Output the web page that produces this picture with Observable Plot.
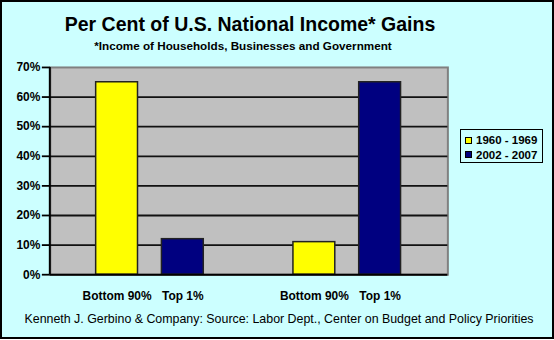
<!DOCTYPE html>
<html>
<head>
<meta charset="utf-8">
<script src="https://cdn.jsdelivr.net/npm/d3@7"></script>
<script src="https://cdn.jsdelivr.net/npm/@observablehq/plot@0.6"></script>
<style>
  html, body { margin: 0; padding: 0; background: #fff; }
  #wrap {
    position: relative; width: 554px; height: 339px; box-sizing: border-box;
    border: 2px solid #000; background: #CCFFFF; overflow: hidden;
    font-family: "Liberation Sans", Arial, sans-serif;
  }
  #title { position: absolute; left: 0; width: 496px; top: 11px; text-align: center;
    font-size: 19.5px; font-weight: bold; color: #000; }
  #subtitle { position: absolute; left: 0; width: 482px; top: 37px; text-align: center;
    font-size: 11.7px; font-weight: bold; color: #000; }
  #chart { position: absolute; left: -2px; top: 53px; }
  #caption { position: absolute; left: 0; width: 554px; top: 310px; text-align: center;
    font-size: 12.4px; color: #000; }
  #legend { position: absolute; left: 458px; top: 127px; width: 83px; height: 34px;
    box-sizing: border-box; border: 1px solid #000; padding: 3px 0 0 4px; }
  .item { display: flex; align-items: center; height: 14.5px; font-size: 11.5px; font-weight: bold; white-space: nowrap; }
  .sw { width: 5px; height: 5px; border: 1px solid #000; margin-right: 4px; }
</style>
</head>
<body>
<div id="wrap">
  <div id="title"></div>
  <div id="subtitle"></div>
  <div id="chart"></div>
  <div id="legend"></div>
  <div id="caption"></div>
</div>
<script>
const titleText = "Per Cent of U.S. National Income* Gains";
const subtitleText = "*Income of Households, Businesses and Government";
const captionText = "Kenneth J. Gerbino & Company: Source: Labor Dept., Center on Budget and Policy Priorities";

// bar slots (a blank slot separates the two periods)
const slots = ["b1", "t1", "gap", "b2", "t2"];
const slotLabels = ["Bottom 90%", "Top 1%", "", "Bottom 90%", "Top 1%"];
const barSlots = ["b1", "t1", "b2", "t2"];
const barValues = [65, 12, 11, 65];
const barColors = ["#FFFF00", "#000080", "#FFFF00", "#000080"];

const legendLabels = ["1960 - 1969", "2002 - 2007"];
const legendColors = ["#FFFF00", "#000080"];

const yTicks = [0, 10, 20, 30, 40, 50, 60, 70];
const gridVals = [10, 20, 30, 40, 50, 60];

document.getElementById("title").textContent = titleText;
document.getElementById("subtitle").textContent = subtitleText;
document.getElementById("caption").textContent = captionText;

const lg = document.getElementById("legend");
legendLabels.forEach((l, i) => {
  const d = document.createElement("div");
  d.className = "item";
  const s = document.createElement("span");
  s.className = "sw";
  s.style.background = legendColors[i];
  d.appendChild(s);
  d.appendChild(document.createTextNode(l));
  lg.appendChild(d);
});

const bars = barSlots.map((k, i) => ({slot: k, value: barValues[i], color: barColors[i]}));

const chart = Plot.plot({
  width: 554,
  height: 250,
  marginLeft: 50,
  marginRight: 105,
  marginTop: 12,
  marginBottom: 30,
  style: {background: "transparent", fontFamily: "Liberation Sans, Arial, sans-serif", fontSize: "12px", fontWeight: "bold", color: "#000"},
  x: {domain: slots, paddingInner: 0.358, paddingOuter: 0.657, label: null},
  y: {domain: [0, 70], label: null},
  marks: [
    Plot.frame({fill: "#C0C0C0", stroke: "#808080", strokeWidth: 2}),
    Plot.ruleY(gridVals, {stroke: "#111", strokeWidth: 1.8}),
    Plot.barY(bars, {x: "slot", y: "value", fill: "color", stroke: "#222", strokeWidth: 1.5}),
    Plot.ruleY([0], {stroke: "#000", strokeWidth: 2}),
    Plot.axisY({ticks: yTicks, tickFormat: d => d + "%", tickSize: 8, tickPadding: 2, stroke: "#000", strokeWidth: 1.8, fontSize: 12, fontWeight: "bold", label: null}),
    Plot.axisX({tickSize: 0, tickPadding: 17, tickFormat: d => slotLabels[slots.indexOf(d)], fontSize: 12, fontWeight: "bold", label: null})
  ]
});
document.getElementById("chart").appendChild(chart);

// left axis line from the scales
const xr = chart.scale("x").range;
const ys = chart.scale("y");
d3.select(chart).append("line")
  .attr("x1", xr[0]).attr("x2", xr[0])
  .attr("y1", ys.apply(0)).attr("y2", ys.apply(70))
  .attr("stroke", "#000").attr("stroke-width", 2);
</script>
</body>
</html>
